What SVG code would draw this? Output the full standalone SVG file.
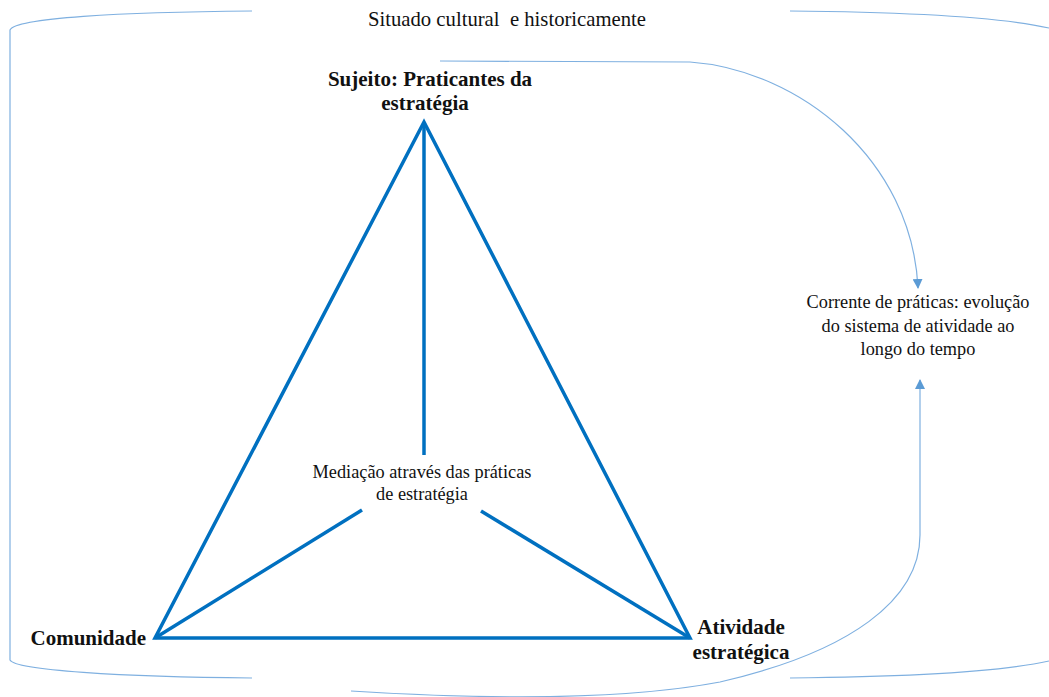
<svg xmlns="http://www.w3.org/2000/svg" width="1049" height="697" viewBox="0 0 1049 697">
  <defs>
    <marker id="arrow" viewBox="0 0 10 10" refX="9" refY="5" markerWidth="10" markerHeight="10" markerUnits="userSpaceOnUse" orient="auto">
      <path d="M0,0 L10,5 L0,10 Z" fill="#5B9BD5"/>
    </marker>
  </defs>
  <style>
    .frame { fill: none; stroke: #7FB0E0; stroke-width: 1.2; }
    .flow { fill: none; stroke: #7FB0E0; stroke-width: 1.2; }
    .tri { fill: none; stroke: #0070C0; stroke-width: 3.5; stroke-linejoin: miter; }
    .bold { font-family: "Liberation Serif", serif; font-weight: bold; font-size: 21px; fill: #111; }
    .plain { font-family: "Liberation Serif", serif; font-size: 18.3px; fill: #111; }
    .title { font-family: "Liberation Serif", serif; font-size: 20.7px; fill: #111; }
  </style>

  <rect width="1049" height="697" fill="#ffffff"/>

  <!-- outer brackets: cultural and historical setting -->
  <g id="context">
    <path class="frame" d="M252,11 C120,12 15,18 10,30 L10,660 C15,670 120,677 252,678"/>
    <path class="frame" d="M790,11 C900,12 1000,17 1049,28"/>
    <path class="frame" d="M790,678 C900,677 1000,672 1049,661"/>
    <text class="title" x="507" y="26" text-anchor="middle" xml:space="preserve">Situado cultural  e historicamente</text>
  </g>

  <!-- activity triangle -->
  <g id="triangle">
    <path class="tri" d="M424,122 L155,638 L690,638 Z"/>
    <line class="tri" x1="424" y1="122" x2="424" y2="455"/>
    <line class="tri" x1="155" y1="638" x2="362" y2="510"/>
    <line class="tri" x1="690" y1="638" x2="481" y2="511"/>
  </g>

  <g id="subject">
    <text class="bold" x="430" y="86" text-anchor="middle">Sujeito: Praticantes da</text>
    <text class="bold" x="425" y="110" text-anchor="middle">estratégia</text>
  </g>

  <g id="community">
    <text class="bold" x="146" y="645" text-anchor="end">Comunidade</text>
  </g>

  <g id="activity">
    <text class="bold" x="741" y="634" text-anchor="middle">Atividade</text>
    <text class="bold" x="741" y="659" text-anchor="middle">estratégica</text>
  </g>

  <g id="mediation">
    <text class="plain" x="422" y="478" text-anchor="middle">Mediação através das práticas</text>
    <text class="plain" x="422" y="500" text-anchor="middle">de estratégia</text>
  </g>

  <g id="stream">
    <text class="plain" x="918" y="308" text-anchor="middle">Corrente de práticas: evolução</text>
    <text class="plain" x="918" y="332" text-anchor="middle">do sistema de atividade ao</text>
    <text class="plain" x="918" y="355" text-anchor="middle">longo do tempo</text>
  </g>

  <!-- connectors toward the stream of practices -->
  <g id="connectors">
    <path class="flow" marker-end="url(#arrow)" d="M440,61 L690,62 C800,70 912,160 918,288"/>
    <path class="flow" marker-end="url(#arrow)" d="M351,691 C480,699 620,701 720,682 C850,652 920,600 920,535 L920,380"/>
  </g>
</svg>
